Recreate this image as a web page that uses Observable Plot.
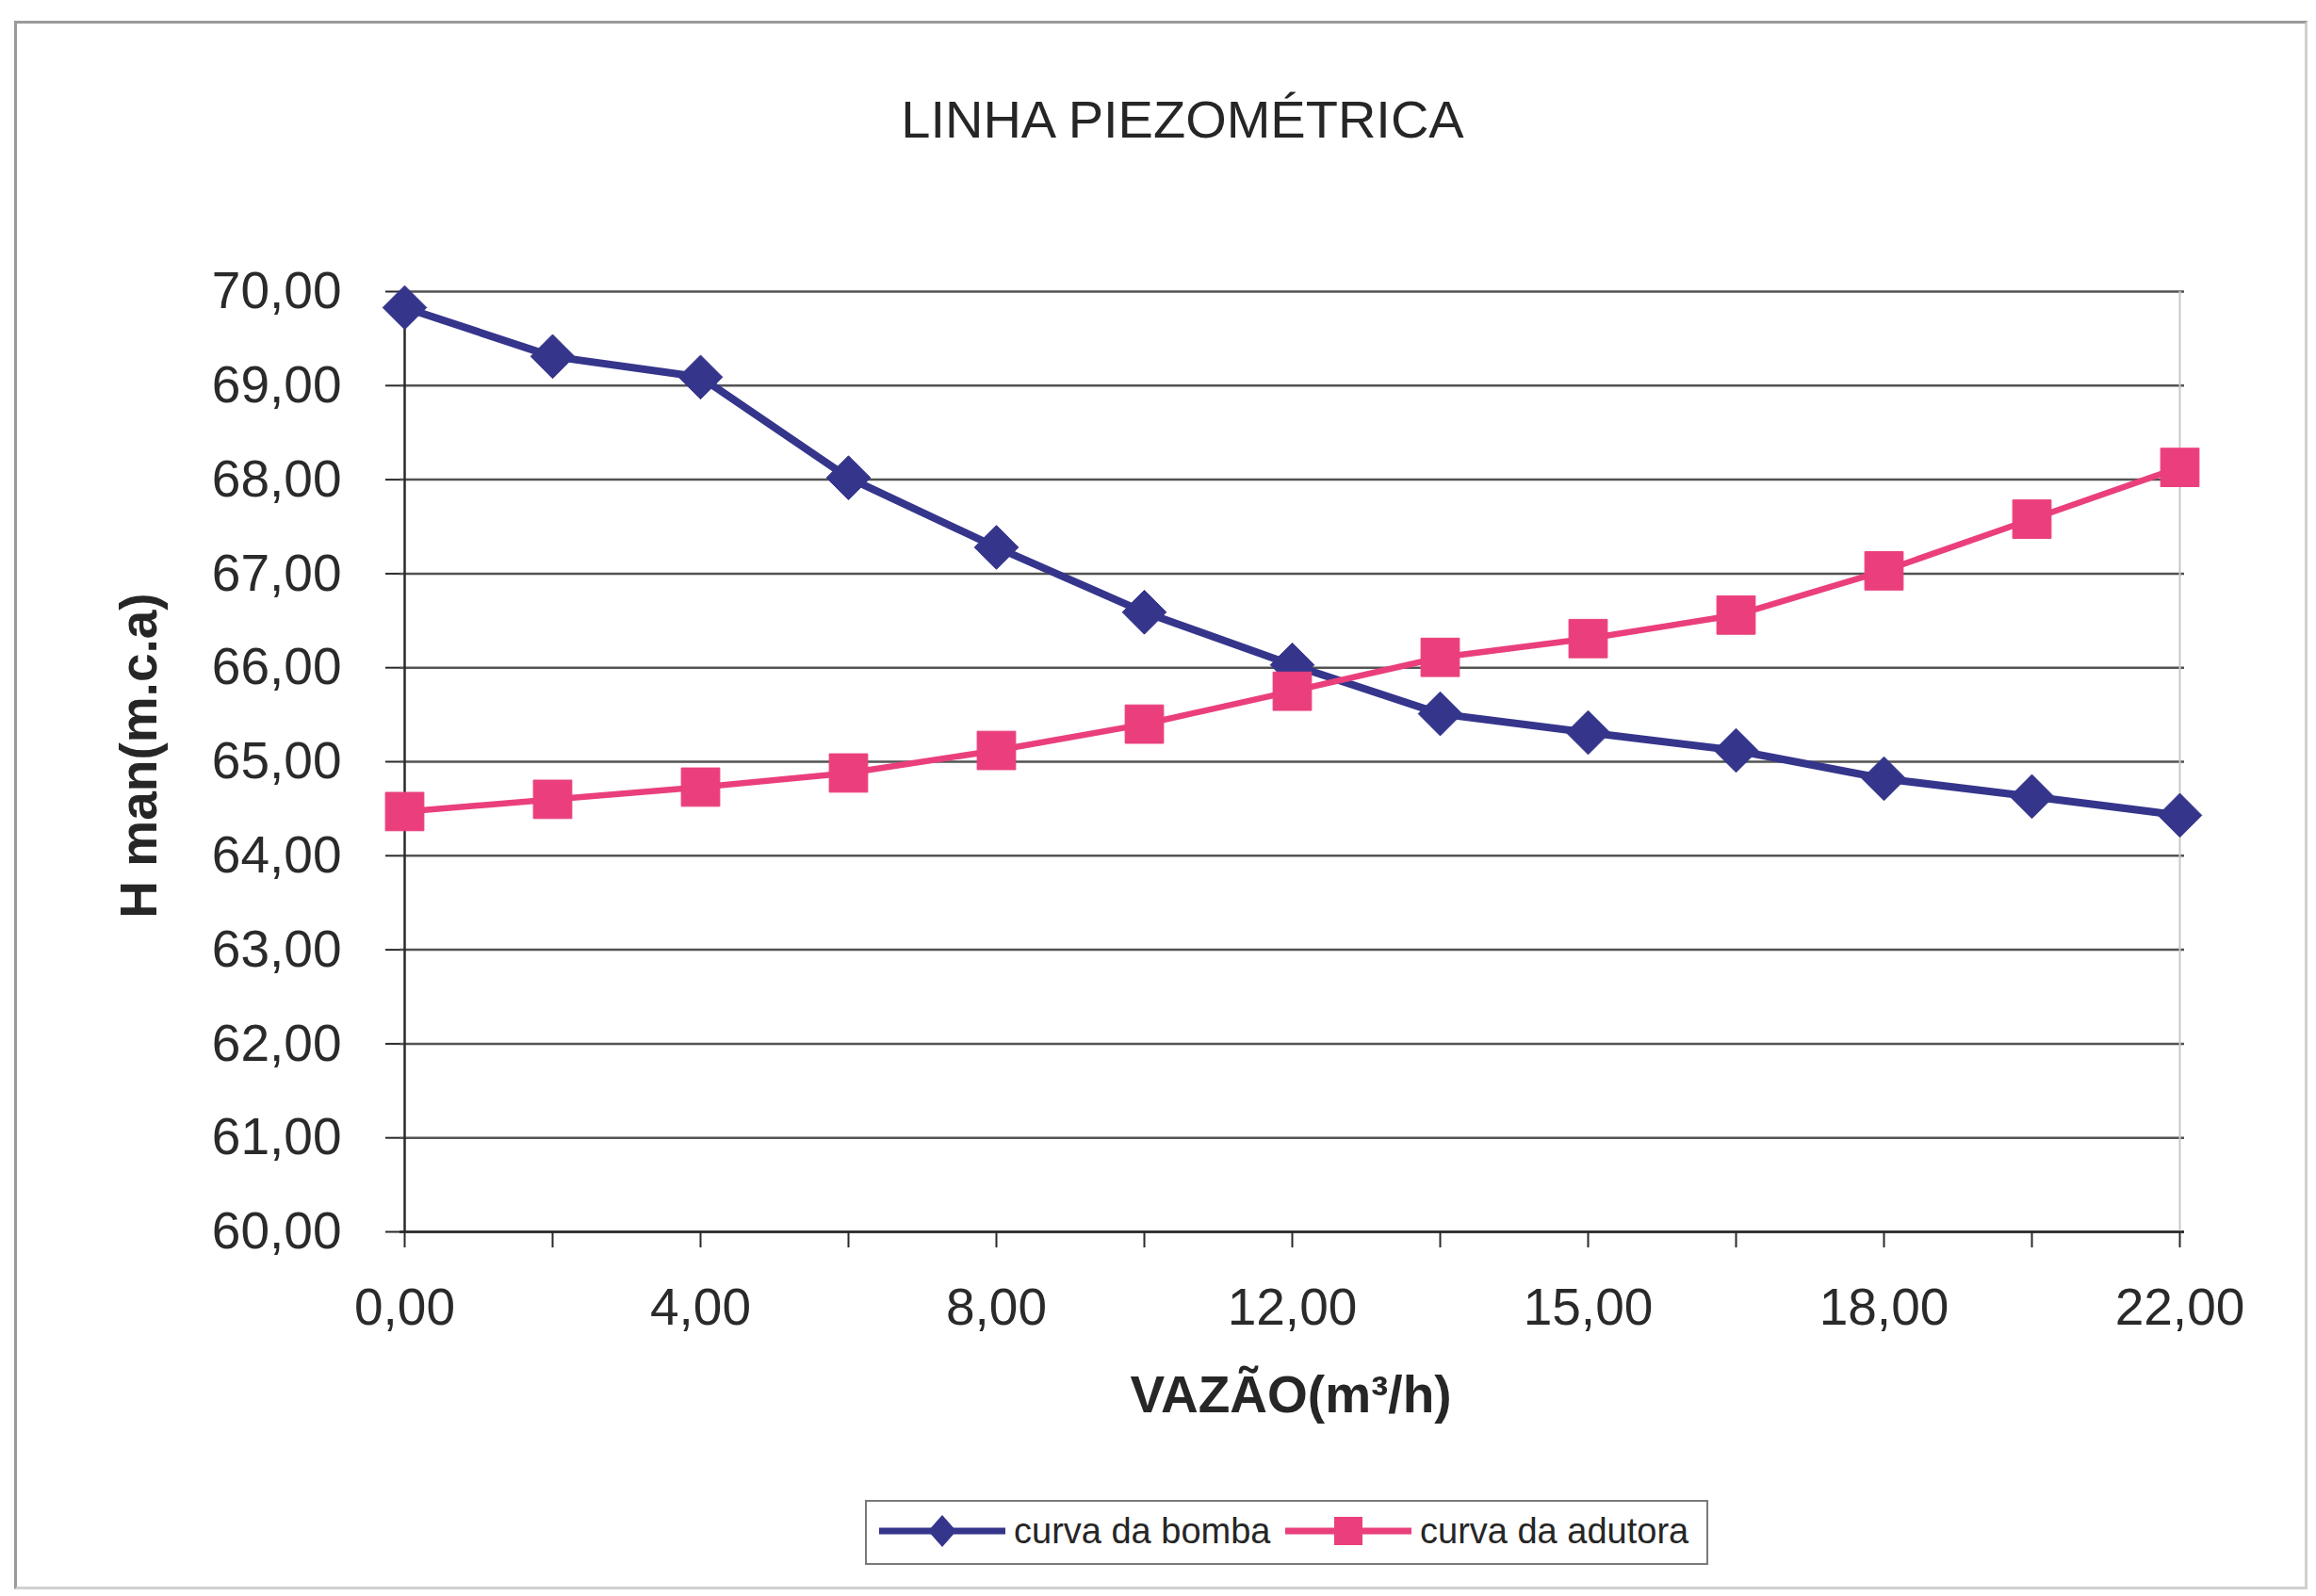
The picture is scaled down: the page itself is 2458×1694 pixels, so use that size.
<!DOCTYPE html>
<html>
<head>
<meta charset="utf-8">
<script src="https://cdn.jsdelivr.net/npm/d3@7"></script>
<script src="https://cdn.jsdelivr.net/npm/@observablehq/plot@0.6"></script>
<style>
  html, body { margin: 0; padding: 0; background: #fff; }
  #page { position: relative; width: 2458px; height: 1694px; overflow: hidden; font-family: 'Liberation Sans', Arial, sans-serif; color: #222; }
  #chart { position: absolute; left: 0; top: 0; }
  #frame { position: absolute; left: 15px; top: 22px; width: 2434px; height: 1665px; border: 3px solid #9a9a9a; border-right-color: #d0d0d0; border-bottom-color: #d0d0d0; box-sizing: border-box; pointer-events: none; }
  .title { position: absolute; left: 1255px; top: 99px; transform: translateX(-50%); font-size: 56px; line-height: 1; white-space: nowrap; color: #262626; }
  .xtitle { position: absolute; left: 1370px; top: 1453px; transform: translateX(-50%); font-size: 55px; font-weight: bold; line-height: 1; white-space: nowrap; color: #262626; }
  .ytitle { position: absolute; left: 147px; top: 802px; transform: translate(-50%, -50%) rotate(-90deg); font-size: 55px; font-weight: bold; line-height: 1; white-space: nowrap; color: #262626; }
  #legend { position: absolute; left: 918px; top: 1592px; }
</style>
</head>
<body>
<div id="page">
  <div id="chart"></div>
  <div id="frame"></div>
  <div class="title" id="title"></div>
  <div class="xtitle" id="xtitle"></div>
  <div class="ytitle" id="ytitle"></div>
  <div id="legend"></div>
</div>
<script>
// ---- data ----
const titleText = "LINHA PIEZOMÉTRICA";
const xTitle = "VAZÃO(m³/h)";
const yTitle = "H man(m.c.a)";
const categories = ["0,00","2,00","4,00","6,00","8,00","10,00","12,00","13,50","15,00","16,50","18,00","20,00","22,00"];
const xLabels = ["0,00","4,00","8,00","12,00","15,00","18,00","22,00"];
const seriesNames = ["curva da bomba", "curva da adutora"];
const bomba   = [69.83, 69.31, 69.09, 68.02, 67.28, 66.59, 66.03, 65.51, 65.31, 65.12, 64.82, 64.63, 64.43];
const adutora = [64.47, 64.60, 64.73, 64.88, 65.12, 65.40, 65.75, 66.11, 66.31, 66.56, 67.03, 67.58, 68.13];
const yTicks = [60, 61, 62, 63, 64, 65, 66, 67, 68, 69, 70];
const colors = ["#35358c", "#ea3f7c"];

const rows = categories.map((c, i) => ({x: c, bomba: bomba[i], adutora: adutora[i]}));
const fmt = d => d.toFixed(2).replace(".", ",");

const plot = Plot.plot({
  width: 2458,
  height: 1694,
  marginLeft: 424,
  marginRight: 140,
  marginTop: 309,
  marginBottom: 387,
  x: {type: "point", domain: categories, padding: 0},
  y: {domain: [60, 70]},
  style: {fontFamily: "'Liberation Sans', Arial, sans-serif", fontSize: "55px", color: "#2a2a2a", background: "transparent", overflow: "visible"},
  marks: [
    Plot.gridY({ticks: yTicks, stroke: "#404040", strokeOpacity: 0.9, strokeWidth: 2.5}),
    Plot.ruleX([categories[categories.length - 1]], {stroke: "#c8c8c8", strokeWidth: 2}),
    Plot.ruleX([categories[0]], {stroke: "#2a2a2a", strokeWidth: 2.5}),
    Plot.ruleY([yTicks[0]], {stroke: "#2a2a2a", strokeWidth: 2.5}),
    Plot.axisY({ticks: yTicks, tickSize: 15, tickPadding: 47, tickFormat: fmt, label: null, strokeWidth: 2}),
    Plot.axisX({ticks: categories, tickSize: 17, tickFormat: () => "", label: null, strokeWidth: 2}),
    Plot.axisX({ticks: xLabels, tickSize: 0, tickPadding: 59, label: null}),
    Plot.line(rows, {x: "x", y: "bomba", stroke: colors[0], strokeWidth: 8}),
    Plot.line(rows, {x: "x", y: "adutora", stroke: colors[1], strokeWidth: 6.5}),
    Plot.dot(rows, {x: "x", y: "bomba", symbol: "diamond2", r: 21, fill: colors[0], stroke: colors[0], strokeWidth: 1}),
    Plot.dot(rows, {x: "x", y: "adutora", symbol: "square", r: 23, fill: colors[1], stroke: colors[1], strokeWidth: 1})
  ]
});
document.getElementById("chart").appendChild(plot);

document.getElementById("title").textContent = titleText;
document.getElementById("xtitle").textContent = xTitle;
document.getElementById("ytitle").textContent = yTitle;

// ---- legend ----
const ns = "http://www.w3.org/2000/svg";
const lg = document.createElementNS(ns, "svg");
lg.setAttribute("width", 896);
lg.setAttribute("height", 70);
lg.style.fontFamily = "'Liberation Sans', Arial, sans-serif";
function el(tag, attrs, parent) {
  const e = document.createElementNS(ns, tag);
  for (const k in attrs) e.setAttribute(k, attrs[k]);
  parent.appendChild(e);
  return e;
}
el("rect", {x: 1, y: 1, width: 893, height: 67, fill: "#fff", stroke: "#7a7a7a", "stroke-width": 2}, lg);
const items = [
  {x0: 15, name: seriesNames[0], color: colors[0], sym: "diamond"},
  {x0: 446, name: seriesNames[1], color: colors[1], sym: "square"}
];
items.forEach(it => {
  el("line", {x1: it.x0, x2: it.x0 + 134, y1: 33, y2: 33, stroke: it.color, "stroke-width": 7}, lg);
  const cx = it.x0 + 67;
  if (it.sym === "diamond") {
    el("path", {d: `M${cx},${33 - 17}L${cx + 15},33L${cx},${33 + 17}L${cx - 15},33Z`, fill: it.color}, lg);
  } else {
    el("rect", {x: cx - 15, y: 33 - 15, width: 30, height: 30, fill: it.color}, lg);
  }
  const t = el("text", {x: it.x0 + 143, y: 46, "font-size": 38, fill: "#262626"}, lg);
  t.textContent = it.name;
});
document.getElementById("legend").appendChild(lg);
</script>
</body>
</html>
